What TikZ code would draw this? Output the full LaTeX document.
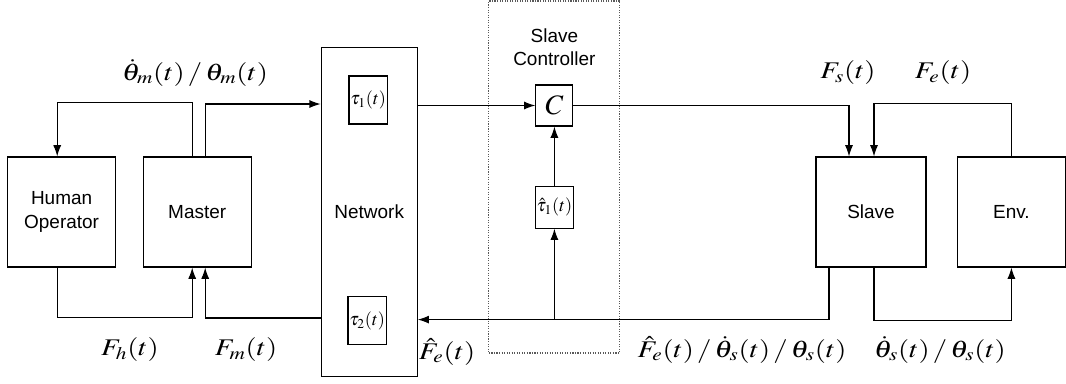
\documentclass[tikz,border=0pt]{standalone}
\usepackage{mathptmx}
\usepackage[no-math]{fontspec}
\setsansfont{Liberation Sans}
\usepackage{graphicx}
\usetikzlibrary{shapes,arrows,arrows.meta,calc,positioning}
\tikzstyle{Box} = [rectangle, draw=black, minimum width=2.7cm, minimum height=2.75cm, font=\fontsize{13.5}{16.5}\sffamily, align=center]
\tikzstyle{Delay} = [rectangle, draw=black, minimum width=0.95cm, minimum height=1.2cm, inner sep=1pt, font=\fontsize{13}{15}\selectfont]
\tikzstyle{arrow} = [->, >={Latex[length=2.8mm,width=2mm]}]
\tikzstyle{Sig} = [font=\fontsize{17}{20}\selectfont]
\newcommand{\sig}[1]{\scalebox{1.2}[1]{$#1$}}

\begin{document}
\begin{tikzpicture}[line width=0.8pt]
\useasboundingbox (0,0) rectangle (26.65,-9.575);

\node (Human)[Box] at (1.54,-5.3){Human\\Operator};
\node (Master)[Box, right of = Human, xshift=2.39cm]{Master};
\node (Network)[Box, minimum width=2.4cm, minimum height=8.225cm, right of = Master, xshift=3.3cm]{Network};
\node (TauOne)[Delay] at ($(Network.north)+(-0.025,-1.325)$){$\tau_1(t)$};
\node (TauTwo)[Delay] at ($(Network.south)+(-0.05,1.41)$){$\tau_2(t)$};

\node (SlaveCtrl)[rectangle, draw=black!65, densely dotted, minimum width=3.275cm, minimum height=8.8cm] at (13.86,-4.425){};
\node (CtrlLabel)[font=\fontsize{13.5}{16.5}\sffamily, align=center] at ($(SlaveCtrl.north)+(0,-1.175)$){Slave\\Controller};
\node (Ctrl)[Delay, minimum width=0.925cm, minimum height=1.025cm, font=\fontsize{20}{22}\selectfont] at (13.86,-2.6375){$C$};
\node (TauHat)[Delay, minimum width=0.925cm, minimum height=1.05cm, below of = Ctrl, yshift=-1.54cm]{$\hat{\tau}_1(t)$};

\node (Slave)[Box, minimum width=2.75cm] at (21.775,-5.3){Slave};
\node (Env)[Box, right of = Slave, xshift=2.51cm]{Env.};

\coordinate (FeLine) at ($(Network.east)+(0,-2.69)$);

% master side
\draw[arrow]($(Master.north)+(-0.125,0)$)--++(0,1.35)-|($(Human.north)+(-0.11,0)$);
\draw[arrow]($(Master.north)+(0.2,0)$)|-($(Network.west)+(0,2.7)$);
\draw[arrow]($(Human.south)+(-0.11,0)$)--++(0,-1.25)-|($(Master.south)+(-0.125,0)$);
\draw[arrow]($(Network.west)+(0,-2.65)$)-|($(Master.south)+(0.2,0)$);

% slave side
\draw[arrow](Network.east |- Ctrl)--(Ctrl.west);
\draw[arrow](TauHat)--(Ctrl);
\draw[arrow](Ctrl.east)-|($(Slave.north)+(-0.55,0)$);
\draw[arrow](Env.north)--++(0,1.325)-|($(Slave.north)+(0.075,0)$);
\draw[arrow]($(Slave.south)+(-1.05,0)$)|-(FeLine);
\draw[arrow](TauHat.south |- FeLine)--(TauHat.south);
\draw[arrow]($(Slave.south)+(0.075,0)$)--++(0,-1.325)-|(Env.south);

% signals
\node (ThetaM)[Sig] at (4.875,-1.825){\sig{\dot{\theta}_m(t)\,/\,\theta_m(t)}};
\node (Fh)[Sig] at (3.25,-8.75){\sig{F_h(t)}};
\node (Fm)[Sig] at (6.15,-8.75){\sig{F_m(t)}};
\node (FeHat)[Sig] at (11.175,-8.8){\sig{\hat{F}_e(t)}};
\node (SlaveOut)[Sig] at (18.55,-8.75){\sig{\hat{F}_e(t)\,/\,\dot{\theta}_s(t)\,/\,\theta_s(t)}};
\node (ThetaS)[Sig] at (23.5,-8.75){\sig{\dot{\theta}_s(t)\,/\,\theta_s(t)}};
\node (Fs)[Sig] at (21.2,-1.825){\sig{F_s(t)}};
\node (Fe)[Sig] at (23.575,-1.825){\sig{F_e(t)}};

\end{tikzpicture}
\end{document}
